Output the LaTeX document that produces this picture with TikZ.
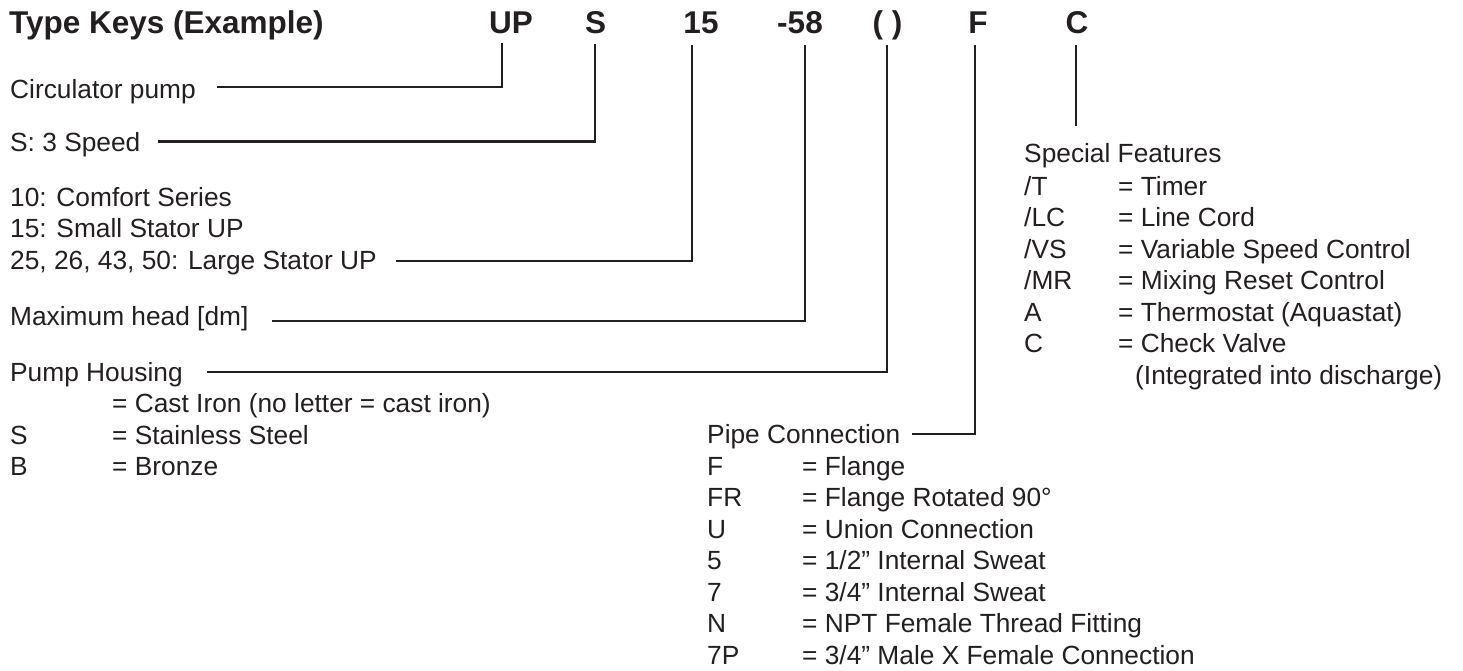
\documentclass[tikz,border=0pt]{standalone}
\usepackage{fontspec}
\setmainfont{Liberation Sans}
\definecolor{ink}{HTML}{231F20}
\begin{document}
\begin{tikzpicture}[x=1pt,y=-1pt,
  body/.style={anchor=base west, inner sep=0pt, font=\fontsize{26.3}{31.5}\selectfont, text=ink},
  head/.style={anchor=base, inner sep=0pt, font=\fontsize{31.5}{36}\selectfont\bfseries, text=ink},
  lead/.style={draw=ink, line width=2.6pt}]
\useasboundingbox (0,0) rectangle (1463,671);
% header
\node[head, anchor=base west] (title) at (9,34) {Type Keys (Example)};
\node[head] (kUP) at (511,34) {UP};
\node[head] (kS) at (595.5,34) {S};
\node[head] (k15) at (701,34) {15};
\node[head] (k58) at (800,34) {-58};
\node[head] (kH) at (887.5,34) {( )};
\node[head] (kF) at (978,34) {F};
\node[head] (kC) at (1077,34) {C};
% left column
\node[body] (tCirc) at (10,99) {Circulator pump};
\node[body] (tSpeed) at (10,152) {S: 3 Speed};
\node[body] (t10) at (10,206) {10: Comfort Series};
\node[body] (t15) at (10,237.5) {15: Small Stator UP};
\node[body] (t25) at (10,269) {25, 26, 43, 50: Large Stator UP};
\node[body] (tMax) at (10,325) {Maximum head [dm]};
\node[body] (tHous) at (10,381) {Pump Housing};
\node[body] (hCI) at (112,412.5) {= Cast Iron (no letter = cast iron)};
\node[body] (hSk) at (10,444) {S};
\node[body] (hS) at (112,444) {= Stainless Steel};
\node[body] (hBk) at (10,475.5) {B};
\node[body] (hB) at (112,475.5) {= Bronze};
% pipe connection
\node[body] (tPipe) at (707,443) {Pipe Connection};
\node[body] (p1k) at (707,475) {F};
\node[body] (p1) at (802,475) {= Flange};
\node[body] (p2k) at (707,506.5) {FR};
\node[body] (p2) at (802,506.5) {= Flange Rotated 90°};
\node[body] (p3k) at (707,538) {U};
\node[body] (p3) at (802,538) {= Union Connection};
\node[body] (p4k) at (707,569.5) {5};
\node[body] (p4) at (802,569.5) {= 1/2” Internal Sweat};
\node[body] (p5k) at (707,601) {7};
\node[body] (p5) at (802,601) {= 3/4” Internal Sweat};
\node[body] (p6k) at (707,632.5) {N};
\node[body] (p6) at (802,632.5) {= NPT Female Thread Fitting};
\node[body] (p7k) at (707,664) {7P};
\node[body] (p7) at (802,664) {= 3/4” Male X Female Connection};
% special features
\node[body] (tSpec) at (1024,163) {Special Features};
\node[body] (s1k) at (1024,195) {/T};
\node[body] (s1) at (1118,195) {= Timer};
\node[body] (s2k) at (1024,226.5) {/LC};
\node[body] (s2) at (1118,226.5) {= Line Cord};
\node[body] (s3k) at (1024,258) {/VS};
\node[body] (s3) at (1118,258) {= Variable Speed Control};
\node[body] (s4k) at (1024,289.5) {/MR};
\node[body] (s4) at (1118,289.5) {= Mixing Reset Control};
\node[body] (s5k) at (1024,321) {A};
\node[body] (s5) at (1118,321) {= Thermostat (Aquastat)};
\node[body] (s6k) at (1024,352.5) {C};
\node[body] (s6) at (1118,352.5) {= Check Valve};
\node[body] (s7) at (1135,384) {(Integrated into discharge)};
% leader lines
\coordinate (aUP) at (217,87);   \coordinate (bUP) at (502,43);
\coordinate (aS) at (158,141.5); \coordinate (bS) at (595,44);
\coordinate (a15) at (396,261);  \coordinate (b15) at (692,45);
\coordinate (a58) at (272,321);  \coordinate (b58) at (805,45);
\coordinate (aH) at (207,372);   \coordinate (bH) at (887,45);
\coordinate (aF) at (912,434);   \coordinate (bF) at (975,45);
\coordinate (aC) at (1076,126);  \coordinate (bC) at (1076,45);
\draw[lead] (aUP) -| (bUP);
\draw[lead] (aS) -| (bS);
\draw[lead] (a15) -| (b15);
\draw[lead] (a58) -| (b58);
\draw[lead] (aH) -| (bH);
\draw[lead] (aF) -| (bF);
\draw[lead] (aC) -- (bC);
\end{tikzpicture}
\end{document}
